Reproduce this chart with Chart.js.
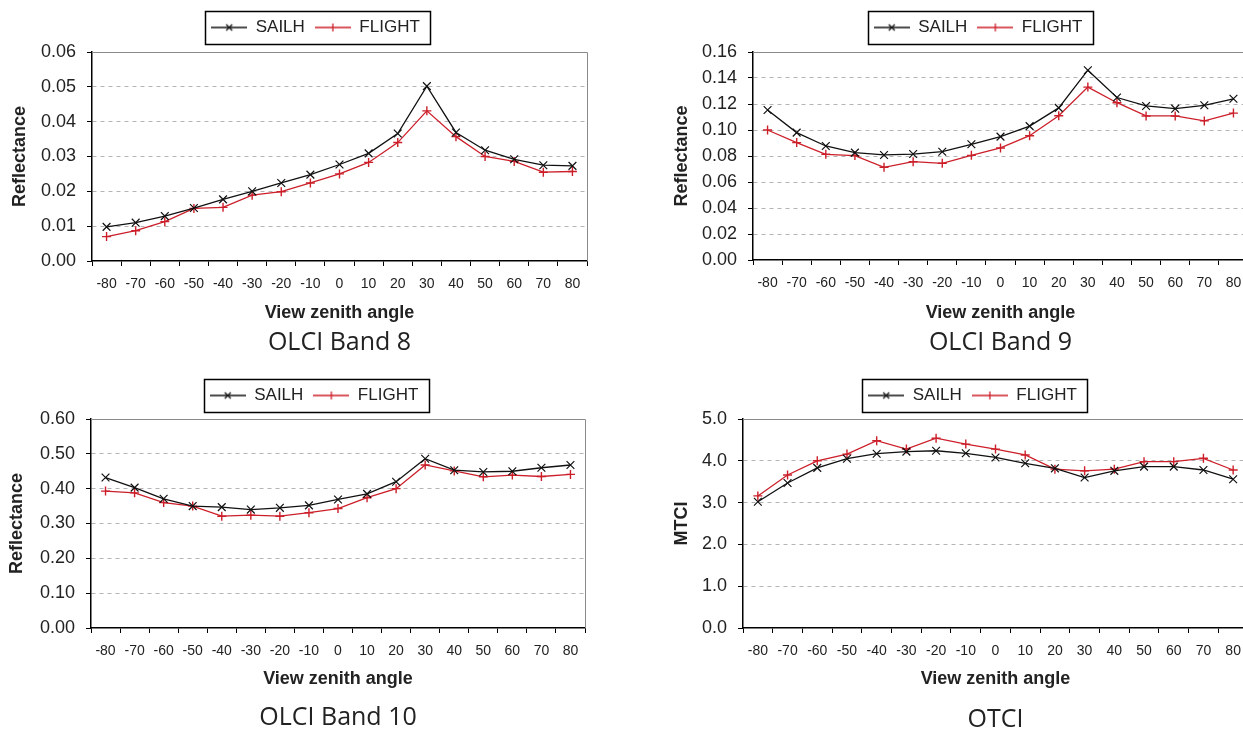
<!DOCTYPE html>
<html>
<head>
<meta charset="utf-8">
<script src="https://cdn.jsdelivr.net/npm/chart.js@4.4.1/dist/chart.umd.min.js"></script>
<style>
  html, body { margin: 0; padding: 0; background: #fff; overflow: hidden; width: 1243px; height: 733px; }
  canvas { position: absolute; }
</style>
</head>
<body>
<canvas id="band8"></canvas>
<canvas id="band9"></canvas>
<canvas id="band10"></canvas>
<canvas id="otci"></canvas>
<script>
// angles de visée (catégories)
const angles = ["-80", "-70", "-60", "-50", "-40", "-30", "-20", "-10", "0", "10", "20", "30", "40", "50", "60", "70", "80"];

const b8Sailh  = [0.0098, 0.0110, 0.0129, 0.0152, 0.0177, 0.0200, 0.0224, 0.0248, 0.0277, 0.0309, 0.0366, 0.0502, 0.0369, 0.0318, 0.0292, 0.0275, 0.0273];
const b8Flight = [0.0070, 0.0087, 0.0113, 0.0151, 0.0154, 0.0189, 0.0199, 0.0224, 0.0250, 0.0283, 0.0340, 0.0431, 0.0357, 0.0300, 0.0286, 0.0255, 0.0257];

const b9Sailh  = [0.1154, 0.0980, 0.0877, 0.0826, 0.0808, 0.0815, 0.0833, 0.0890, 0.0949, 0.1030, 0.1170, 0.1460, 0.1250, 0.1185, 0.1164, 0.1190, 0.1240];
const b9Flight = [0.1000, 0.0903, 0.0813, 0.0803, 0.0713, 0.0756, 0.0744, 0.0805, 0.0862, 0.0956, 0.1110, 0.1330, 0.1210, 0.1108, 0.1108, 0.1070, 0.1130];

const b10Sailh  = [0.432, 0.403, 0.371, 0.350, 0.347, 0.340, 0.345, 0.352, 0.369, 0.385, 0.420, 0.486, 0.453, 0.448, 0.450, 0.460, 0.468];
const b10Flight = [0.393, 0.388, 0.360, 0.350, 0.321, 0.324, 0.321, 0.331, 0.343, 0.374, 0.400, 0.468, 0.451, 0.434, 0.439, 0.435, 0.441];

const otciSailh  = [3.02, 3.47, 3.83, 4.05, 4.17, 4.22, 4.24, 4.18, 4.08, 3.94, 3.82, 3.60, 3.76, 3.86, 3.86, 3.78, 3.56];
const otciFlight = [3.16, 3.66, 4.00, 4.16, 4.48, 4.28, 4.54, 4.40, 4.28, 4.14, 3.80, 3.76, 3.80, 3.98, 3.98, 4.06, 3.78];

const seriesNames = ["SAILH", "FLIGHT"];

const FONT = "'Liberation Sans', Arial, sans-serif";
const BLACK = "#111";
const RED = "#cc1f2a";

Chart.defaults.font.family = FONT;
Chart.defaults.color = "#222";

// petit symbole de légende façon Excel : trait + marqueur
function legendSymbol(color, cross) {
  const c = document.createElement("canvas");
  c.width = 36; c.height = 12;
  const g = c.getContext("2d");
  g.strokeStyle = color;
  g.lineWidth = 1.3;
  g.beginPath(); g.moveTo(0, 6); g.lineTo(36, 6); g.stroke();
  g.beginPath();
  if (cross === "x") {
    g.moveTo(15, 3); g.lineTo(21, 9); g.moveTo(15, 9); g.lineTo(21, 3);
  } else {
    g.moveTo(18, 2); g.lineTo(18, 10);
  }
  g.stroke();
  return c;
}
const symbols = [legendSymbol(BLACK, "x"), legendSymbol(RED, "+")];

// cadre de la légende + bord gris haut/droite de la zone de tracé
const framePlugin = {
  id: "frame",
  beforeInit(chart) {
    const legend = chart.legend;
    const fit = legend.fit;
    legend.fit = function () {
      fit.call(this);
      this.height += chart.options.plugins.frame.legendExtra;
    };
  },
  afterDraw(chart) {
    const { ctx, chartArea } = chart;
    ctx.save();
    ctx.strokeStyle = "#8a8a8a";
    ctx.lineWidth = 1;
    ctx.beginPath();
    ctx.moveTo(chartArea.left, chartArea.top + 0.5);
    ctx.lineTo(chartArea.right + 0.5, chartArea.top + 0.5);
    ctx.lineTo(chartArea.right + 0.5, chartArea.bottom);
    ctx.stroke();

    const boxes = chart.legend.legendHitBoxes;
    if (boxes && boxes.length) {
      const l = Math.min(...boxes.map((b) => b.left));
      const r = Math.max(...boxes.map((b) => b.left + b.width));
      const t = boxes[0].top;
      const h = boxes[0].height;
      ctx.strokeStyle = "#000";
      ctx.lineWidth = 1.5;
      ctx.strokeRect(Math.round(l - 6) + 0.5, Math.round(t - 8) + 0.5, Math.round(r - l + 16), Math.round(h + 16));
    }
    ctx.restore();
  },
};

function makePanel(id, g, caption, yTitle, sailh, flight, yMax, yStep, decimals) {
  const canvas = document.getElementById(id);
  canvas.width = g.width;
  canvas.height = g.height;
  canvas.style.left = g.left + "px";
  canvas.style.top = g.top + "px";

  const a = g.area;
  const yW = a.l - g.left;
  const rightW = g.left + g.width - a.r;
  const padTop = g.legendY - g.top - 18.5;
  const legendExtra = a.t - g.top - padTop - 37;
  const xH = g.axisTitleY + 10.8 - a.b;
  const capPad = g.captionY - (a.b + xH) - 15;
  const capH = 30 + capPad;
  const padBottom = g.top + g.height - (a.b + xH + capH);

  const cfg = {
    type: "line",
    data: {
      labels: angles,
      datasets: [
        {
          label: seriesNames[0],
          data: sailh,
          borderColor: BLACK,
          backgroundColor: BLACK,
          borderWidth: 1.3,
          pointStyle: "crossRot",
          pointRadius: 5.5,
          pointBorderWidth: 1.2,
          tension: 0,
        },
        {
          label: seriesNames[1],
          data: flight,
          borderColor: RED,
          backgroundColor: RED,
          borderWidth: 1.3,
          pointStyle: "cross",
          pointRadius: 4.5,
          pointBorderWidth: 1.4,
          tension: 0,
        },
      ],
    },
    options: {
      responsive: false,
      animation: false,
      layout: { padding: { top: padTop, bottom: padBottom, left: 0, right: 0 } },
      plugins: {
        frame: { legendExtra },
        tooltip: { enabled: false },
        legend: {
          position: "top",
          labels: {
            usePointStyle: true,
            pointStyleWidth: 36,
            padding: 10,
            color: "#222",
            font: { family: FONT, size: 17 },
            generateLabels: (chart) => {
              const items = Chart.defaults.plugins.legend.labels.generateLabels(chart);
              items.forEach((it, i) => { it.pointStyle = symbols[i]; });
              return items;
            },
          },
        },
        title: {
          display: true,
          position: "bottom",
          fullSize: false,
          text: caption,
          color: "#222",
          font: { family: "'Open Sans', sans-serif", size: 25, weight: "normal" },
          padding: { top: capPad, bottom: 0 },
        },
      },
      scales: {
        x: {
          type: "category",
          offset: true,
          grid: { display: true, drawOnChartArea: false, drawTicks: true, offset: true, tickLength: 5, tickColor: "#000", tickWidth: 1 },
          border: { display: true, color: "#000", width: 1.5 },
          ticks: { color: "#222", font: { family: FONT, size: 14 }, padding: 10, maxRotation: 0, autoSkip: false },
          title: {
            display: true,
            text: "View zenith angle",
            color: "#222",
            font: { family: FONT, size: 18, weight: "bold" },
            padding: { top: 0, bottom: 0 },
          },
          afterFit: (s) => { s.height = xH; },
        },
        y: {
          min: 0,
          max: yMax,
          grid: {
            color: (c) => (c.tick && (c.tick.value === 0 || Math.abs(c.tick.value - yMax) < 1e-9) ? "rgba(0,0,0,0)" : "#b4b4b4"),
            tickColor: "#000",
            tickLength: 5,
            drawTicks: true,
          },
          border: { display: true, color: "#000", width: 1.5, dash: [4, 4] },
          ticks: {
            stepSize: yStep,
            color: "#222",
            font: { family: FONT, size: 18 },
            padding: 11,
            callback: (v) => Number(v).toFixed(decimals),
          },
          title: {
            display: true,
            text: yTitle,
            color: "#222",
            font: { family: FONT, size: 18, weight: "bold" },
            padding: { top: g.yTitleX - g.left - 10.8, bottom: 0 },
          },
          afterFit: (s) => { s.width = yW; },
        },
        y2: {
          position: "right",
          display: true,
          grid: { display: false, drawTicks: false },
          ticks: { display: false },
          border: { display: false },
          afterFit: (s) => { s.width = rightW; },
        },
      },
    },
    plugins: [framePlugin],
  };
  return new Chart(canvas, cfg);
}

makePanel("band8",
  { left: 0, top: 0, width: 631, height: 360, area: { l: 92, t: 52, r: 587, b: 261 }, legendY: 27.5, axisTitleY: 313, captionY: 343, yTitleX: 20 },
  "OLCI Band 8", "Reflectance", b8Sailh, b8Flight, 0.06, 0.01, 2);

makePanel("band9",
  { left: 660, top: 0, width: 636, height: 360, area: { l: 753, t: 52, r: 1248, b: 260 }, legendY: 27.5, axisTitleY: 313, captionY: 343, yTitleX: 682.5 },
  "OLCI Band 9", "Reflectance", b9Sailh, b9Flight, 0.16, 0.02, 2);

makePanel("band10",
  { left: 0, top: 360, width: 628, height: 373, area: { l: 91, t: 419, r: 585, b: 628 }, legendY: 395.5, axisTitleY: 679, captionY: 718, yTitleX: 17.5 },
  "OLCI Band 10", "Reflectance", b10Sailh, b10Flight, 0.6, 0.1, 2);

makePanel("otci",
  { left: 660, top: 360, width: 625, height: 373, area: { l: 743, t: 419, r: 1248, b: 628 }, legendY: 395.5, axisTitleY: 679, captionY: 720, yTitleX: 682 },
  "OTCI", "MTCI", otciSailh, otciFlight, 5, 1, 1);
</script>
</body>
</html>
